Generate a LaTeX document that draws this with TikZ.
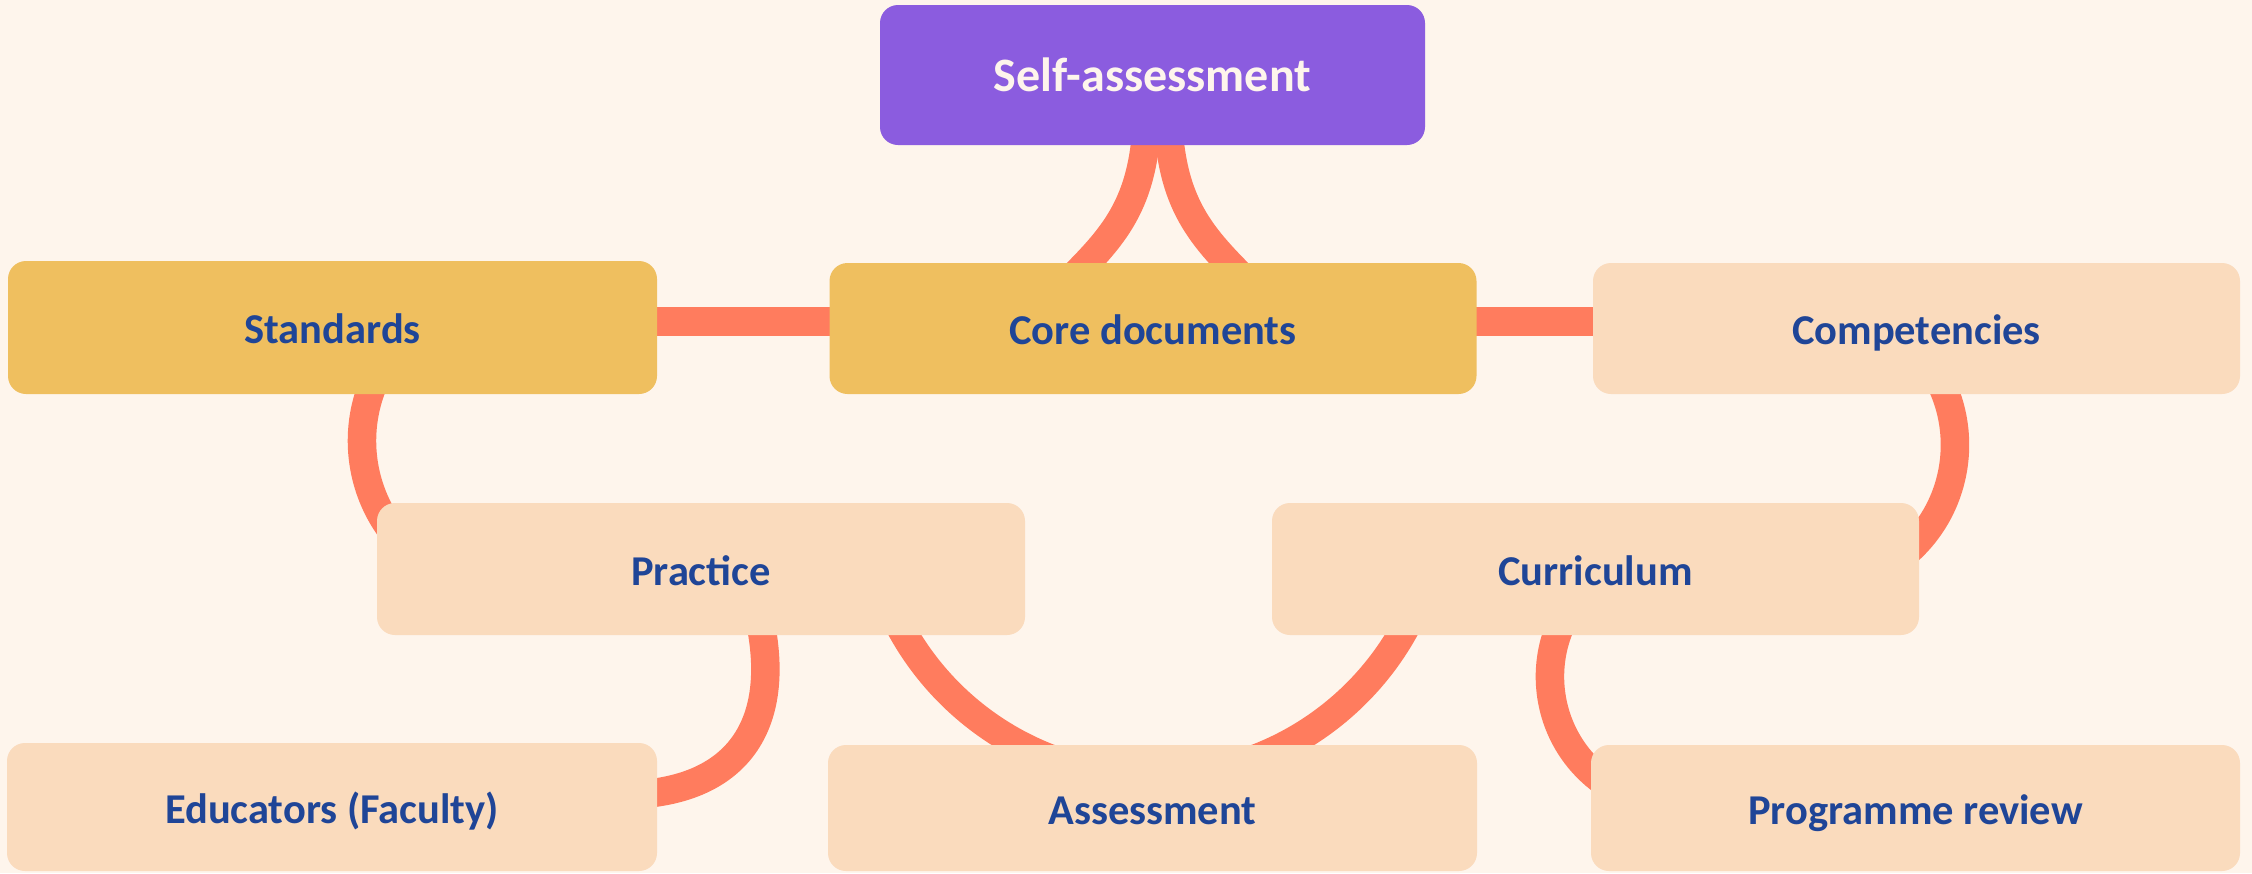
\documentclass[tikz,border=0pt]{standalone}
\usepackage{fontspec}
\setmainfont{Carlito}
\definecolor{bgc}{HTML}{FEF5EC}
\definecolor{purp}{HTML}{8B5CDF}
\definecolor{gold}{HTML}{EFBF5F}
\definecolor{peach}{HTML}{FADBBD}
\definecolor{coral}{HTML}{FF7C5E}
\definecolor{navy}{HTML}{1F4597}
\begin{document}
\begin{tikzpicture}[x=1pt,y=-1pt,
  box/.style={rectangle, rounded corners=18pt, inner sep=0pt, text height=32pt, text depth=0pt,
    font=\bfseries\fontsize{42.5}{50}\selectfont, text=navy},
  link/.style={draw=coral, line width=28.5pt}]
\fill[bgc] (0,0) rectangle (2252,873);
\useasboundingbox (0,0) rectangle (2252,873);
% connector end points (hidden under the boxes)
\coordinate (stdR) at (600,321.5);
\coordinate (coreL) at (900,321.5);
\coordinate (coreR) at (1400,321.5);
\coordinate (compL) at (1650,321.5);
\coordinate (saL) at (1147,120);
\coordinate (saR) at (1168,120);
\coordinate (coreTL) at (1060,290);
\coordinate (coreTR) at (1255,290);
\coordinate (stdB) at (397,345);
\coordinate (praL) at (406,547);
\coordinate (compB) at (1921.5,353);
\coordinate (curR) at (1894,562);
\coordinate (curB) at (1596,578);
\coordinate (progL) at (1615,789);
\coordinate (praB) at (875.3,564.4);
\coordinate (assB) at (1153,777.5);
\coordinate (curL) at (1430.7,564.4);
\coordinate (praD) at (755,600);
\coordinate (eduR) at (620,795);
% connectors
\draw[link] (stdR) -- (coreL);
\draw[link] (coreR) -- (compL);
\draw[link] (saL) .. controls (1143,210) and (1110,240) .. (coreTL);
\draw[link] (saR) .. controls (1172,210) and (1205,240) .. (coreTR);
\draw[link] (stdB) .. controls (347,404) and (351,492) .. (praL);
\draw[link] (compB) .. controls (1975.4,417.4) and (1962.7,514) .. (curR);
\draw[link] (curB) .. controls (1527.3,635.6) and (1536.9,744.1) .. (progL);
\draw[link] (praB) .. controls (909,690.1) and (1022.9,777.5) .. (assB)
  .. controls (1283.1,777.5) and (1397,690.1) .. (curL);
\draw[link] (praD) .. controls (788,720) and (742,795) .. (eduR);
% boxes
\node[box, fill=purp, text=bgc, minimum width=545pt, minimum height=140pt,
  font=\bfseries\fontsize{48}{56}\selectfont] (sa) at (1152.5,75) {Self-assessment};
\node[box, fill=gold, minimum width=649pt, minimum height=133pt] (std) at (332.5,327.5) {Standards};
\node[box, fill=gold, minimum width=647pt, minimum height=131pt] (core) at (1153,328.5) {Core documents};
\node[box, fill=peach, minimum width=647pt, minimum height=131pt] (comp) at (1916.5,328.5) {Competencies};
\node[box, fill=peach, minimum width=648pt, minimum height=132pt] (pra) at (701,569) {Practice};
\node[box, fill=peach, minimum width=647pt, minimum height=132pt] (cur) at (1595.5,569) {Curriculum};
\node[box, fill=peach, minimum width=650pt, minimum height=128pt] (edu) at (332,807) {Educators (Faculty)};
\node[box, fill=peach, minimum width=649pt, minimum height=126pt] (ass) at (1152.5,808) {Assessment};
\node[box, fill=peach, minimum width=649pt, minimum height=126pt] (prog) at (1915.5,808) {Programme review};
\end{tikzpicture}
\end{document}
